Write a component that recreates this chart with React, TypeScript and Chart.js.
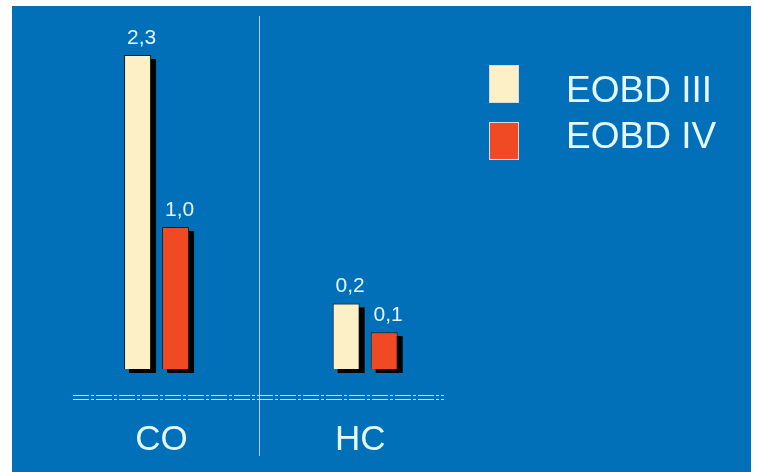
import React, { useEffect, useRef } from "react";
import { Chart, registerables } from "chart.js";

Chart.register(...registerables);

const categories = ["CO", "HC"];
const seriesNames = ["EOBD III", "EOBD IV"];
// bar heights as drawn (relative scale), and the printed value labels
const eobd3Heights = [2.3, 0.48];
const eobd4Heights = [1.04, 0.27];
const eobd3Labels = ["2,3", "0,2"];
const eobd4Labels = ["1,0", "0,1"];

const BLUE = "#0170B9";
const CREAM = "#FDEFC6";
const RED = "#EF4A24";
const TEXT = "#E4F8FF";
const FONT = "'Liberation Sans', Arial, sans-serif";

const decorPlugin = {
  id: "decor",
  beforeDraw(chart: any) {
    const { ctx } = chart;
    ctx.save();
    ctx.fillStyle = "#ffffff";
    ctx.fillRect(0, 0, chart.width, chart.height);
    ctx.fillStyle = BLUE;
    ctx.fillRect(12, 6, 739, chart.height - 6);
    // separator line
    const xs = chart.scales.x;
    const mid = (xs.getPixelForValue(0) + xs.getPixelForValue(1)) / 2 - 2;
    ctx.strokeStyle = "#A9D6EE";
    ctx.lineWidth = 1;
    ctx.beginPath();
    ctx.moveTo(Math.round(mid) + 0.5, 16);
    ctx.lineTo(Math.round(mid) + 0.5, 456);
    ctx.stroke();
    // dashed double baseline
    ctx.strokeStyle = "#B8E2F6";
    ctx.setLineDash([16, 2, 3, 2]);
    [395.5, 399.5].forEach((y) => {
      ctx.beginPath();
      ctx.moveTo(73, y);
      ctx.lineTo(444, y);
      ctx.stroke();
    });
    ctx.setLineDash([]);
    ctx.restore();
  },
  beforeDatasetsDraw(chart: any) {
    const { ctx } = chart;
    ctx.save();
    ctx.fillStyle = "#000000";
    chart.data.datasets.forEach((_: any, di: number) => {
      const meta = chart.getDatasetMeta(di);
      meta.data.forEach((bar: any) => {
        const w = bar.width;
        ctx.fillRect(bar.x - w / 2 + 5, bar.y + 4, w, bar.base - bar.y);
      });
    });
    ctx.restore();
  },
  afterDatasetsDraw(chart: any) {
    const { ctx } = chart;
    ctx.save();
    // value labels
    const labelSets = [eobd3Labels, eobd4Labels];
    ctx.fillStyle = TEXT;
    ctx.font = `21px ${FONT}`;
    ctx.textAlign = "center";
    ctx.textBaseline = "alphabetic";
    chart.data.datasets.forEach((_: any, di: number) => {
      const meta = chart.getDatasetMeta(di);
      meta.data.forEach((bar: any, i: number) => {
        ctx.fillText(labelSets[di][i], bar.x + 4, bar.y - 11);
      });
    });
    // category labels
    const xs = chart.scales.x;
    ctx.font = `35px ${FONT}`;
    ctx.textBaseline = "alphabetic";
    chart.data.labels.forEach((lab: string, i: number) => {
      ctx.fillText(lab, xs.getPixelForValue(i) + (i === 0 ? 5 : -5), 450);
    });
    // legend
    ctx.textAlign = "left";
    ctx.font = `37px ${FONT}`;
    chart.data.datasets.forEach((ds: any, di: number) => {
      const top = 65 + di * 57;
      ctx.fillStyle = ds.backgroundColor;
      ctx.fillRect(489, top, 30, 38);
      ctx.strokeStyle = "#D8D8D8";
      ctx.lineWidth = 1;
      ctx.strokeRect(489.5, top + 0.5, 29, 37);
      ctx.fillStyle = TEXT;
      ctx.fillText(ds.label, 566, 102 + di * 46);
    });
    ctx.restore();
  },
};

export default function App() {
  const ref = useRef<HTMLCanvasElement>(null);
  useEffect(() => {
    document.body.style.margin = "0";
    const chart = new Chart(ref.current!, {
      type: "bar",
      data: {
        labels: categories,
        datasets: [
          {
            label: seriesNames[0],
            data: eobd3Heights,
            backgroundColor: CREAM,
            borderColor: "#1a1a1a",
            borderWidth: 1,
            categoryPercentage: 0.3645,
            barPercentage: 0.71,
          },
          {
            label: seriesNames[1],
            data: eobd4Heights,
            backgroundColor: RED,
            borderColor: "#1a1a1a",
            borderWidth: 1,
            categoryPercentage: 0.3645,
            barPercentage: 0.71,
          },
        ],
      },
      options: {
        animation: false,
        responsive: false,
        maintainAspectRatio: false,
        layout: { padding: { left: 52.25, right: 288.5, top: 55, bottom: 103 } },
        plugins: { legend: { display: false }, tooltip: { enabled: false } },
        scales: {
          x: { display: false },
          y: { display: false, min: 0, max: 2.3 },
        },
      },
      plugins: [decorPlugin],
    });
    return () => chart.destroy();
  }, []);
  return (
    <div style={{ position: "fixed", left: 0, top: 0, width: 758, height: 472 }}>
      <canvas ref={ref} width={758} height={472} style={{ display: "block" }} />
    </div>
  );
}
